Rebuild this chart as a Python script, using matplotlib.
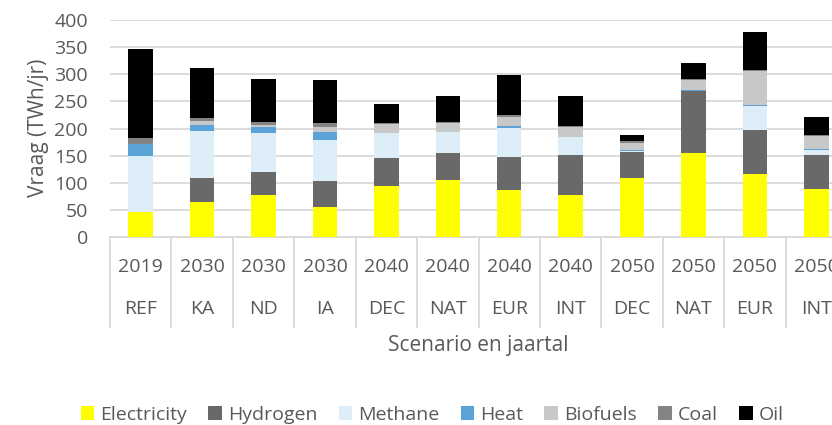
import numpy as np
import matplotlib
matplotlib.use('Agg')
import matplotlib.pyplot as plt

plt.rcParams['font.family'] = ['Open Sans', 'DejaVu Sans']

jaren = ['2019', '2030', '2030', '2030', '2040', '2040', '2040', '2040',
         '2050', '2050', '2050', '2050']
scenarios = ['REF', 'KA', 'ND', 'IA', 'DEC', 'NAT', 'EUR', 'INT',
             'DEC', 'NAT', 'EUR', 'INT']

# TWh/jr per drager
electricity = [46, 64.5, 77.4, 56, 93.4, 104.5, 87, 77.4, 109.4, 155.4, 116.7, 88.5]
hydrogen = [0, 43.5, 42.6, 47, 52.6, 50.5, 60.5, 73.2, 47.3, 113.1, 80.3, 62.1]
methane = [103, 87, 72, 76, 45, 38, 53.5, 33.1, 2.3, 1.2, 44.5, 9.8]
heat = [23, 11, 11, 14, 1, 1, 3.6, 1.3, 1.4, 1.3, 1.2, 1.3]
biofuels = [0, 7, 3, 10, 15.7, 15.6, 17.2, 17, 13.6, 18.4, 63.3, 25]
coal = [11, 6, 6, 6.6, 1.9, 2.4, 2.2, 2, 2.4, 1.2, 1, 1.3]
oil = [163.5, 93, 80, 79.4, 36.1, 48.5, 75, 56.5, 11.6, 30.1, 70, 33]

series = [
    ('Electricity', electricity, '#ffff00'),
    ('Hydrogen', hydrogen, '#696969'),
    ('Methane', methane, '#ddeef8'),
    ('Heat', heat, '#5ba3d6'),
    ('Biofuels', biofuels, '#c8c8c8'),
    ('Coal', coal, '#848484'),
    ('Oil', oil, '#000000'),
]

tekst = '#595959'
grid = '#d9d9d9'

W, H = 832, 425
fig = plt.figure(figsize=(W / 100, H / 100), dpi=100)
# assen lopen rechts buiten het plaatje door, net als in het origineel
x0, x1, y0, y1 = 110, 847, 237, 20
ax = fig.add_axes([x0 / W, (H - y0) / H, (x1 - x0) / W, (y0 - y1) / H])

x = np.arange(len(jaren))
bottom = np.zeros(len(jaren))
for naam, vals, kleur in series:
    vals = np.array(vals, dtype=float)
    ax.bar(x, vals, width=0.4, bottom=bottom, color=kleur, label=naam,
           zorder=3, linewidth=0)
    bottom += vals

ax.set_xlim(-0.5, len(jaren) - 0.5)
ax.set_ylim(0, 400)
ax.set_yticks(np.arange(0, 401, 50))
ax.yaxis.grid(True, color=grid, linewidth=1.3, zorder=0)
ax.tick_params(axis='y', length=0, pad=16, labelsize=14, labelcolor=tekst)
ax.set_xticks([])
for s in ['top', 'right', 'left']:
    ax.spines[s].set_visible(False)
ax.spines['bottom'].set_color(grid)
ax.spines['bottom'].set_linewidth(1.3)

ax.set_ylabel('Vraag (TWh/jr)', fontsize=15, color=tekst)
ax.yaxis.set_label_coords(-(x0 - 49) / (x1 - x0), (y0 - 128) / (y0 - y1))

# twee niveaus categorie-labels met scheidingslijnen
trans = ax.get_xaxis_transform()
hpx = y0 - y1
for i in range(len(jaren)):
    ax.text(i, -(267 - y0) / hpx, jaren[i], transform=trans, ha='center',
            va='center', fontsize=14, color=tekst)
    ax.text(i, -(309 - y0) / hpx, scenarios[i], transform=trans, ha='center',
            va='center', fontsize=14, color=tekst)
for i in range(len(jaren) + 1):
    ax.plot([i - 0.5, i - 0.5], [0, -(327 - y0) / hpx], transform=trans,
            color=grid, linewidth=1.3, clip_on=False)

fig.text(478 / W, (H - 346) / H, 'Scenario en jaartal',
         ha='center', va='center', fontsize=15, color=tekst)

leg = fig.legend(loc='center', bbox_to_anchor=(432 / W, (H - 415) / H), ncol=7,
                 frameon=False, fontsize=14, handlelength=0.7, handleheight=0.7,
                 handletextpad=0.3, columnspacing=1.1, borderpad=0)
for t in leg.get_texts():
    t.set_color(tekst)

fig.savefig('out.png', dpi=100)
